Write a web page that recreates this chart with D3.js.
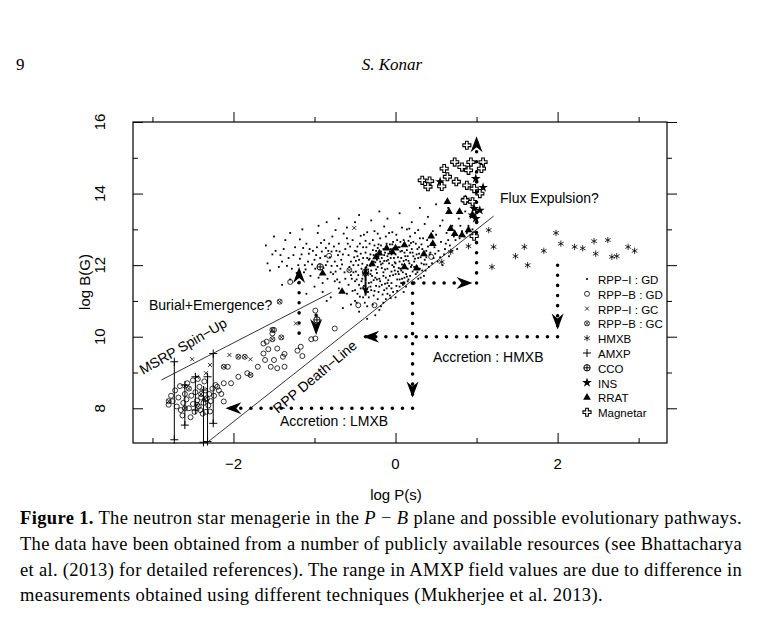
<!DOCTYPE html>
<html><head><meta charset="utf-8">
<script src="https://cdn.jsdelivr.net/npm/d3@7"></script>
<style>body{margin:0;background:#fff}svg{display:block}</style>
</head><body><svg id="c" width="775" height="627"></svg>
<script>
const xTicks=[-2,0,2], yTicks=[8,10,12,14,16];
const rppIGD=[[-0.55,12.1],[-0.52,11.8],[-0.5,12.4],[-0.48,11.6],[-0.46,12.0],[-0.44,12.6],[-0.42,11.9],[-0.4,12.2],[-0.38,11.7],[-0.36,12.5],[-0.35,12.0],[-0.33,11.5],[-0.31,12.3],[-0.3,11.85],[-0.28,12.7],[-0.27,12.1],[-0.25,11.65],[-0.24,12.4],[-0.22,11.95],[-0.21,12.25],[-0.19,11.55],[-0.18,12.55],[-0.16,12.05],[-0.15,11.8],[-0.13,12.35],[-0.12,12.8],[-0.1,11.9],[-0.09,12.15],[-0.07,11.7],[-0.06,12.45],[-0.04,12.0],[-0.03,12.65],[-0.01,11.85],[0.0,12.3],[0.02,11.6],[0.03,12.5],[0.05,12.1],[0.06,11.9],[0.08,12.4],[0.1,12.7],[0.11,12.0],[0.13,11.75],[0.15,12.25],[0.17,12.55],[0.19,11.95],[0.21,12.35],[0.23,12.1],[0.25,12.6],[0.28,12.2],[0.3,11.9],[0.33,12.45],[0.36,12.15],[0.39,12.7],[0.42,12.3],
[-0.58,11.45],[-0.53,12.7],[-0.47,12.25],[-0.43,11.35],[-0.39,12.85],[-0.34,11.25],[-0.29,12.0],[-0.26,12.95],[-0.2,11.4],[-0.17,12.2],[-0.14,11.3],[-0.11,12.6],[-0.08,12.9],[-0.05,11.5],[-0.02,12.2],[0.01,12.85],[0.04,11.75],[0.07,12.2],[0.09,11.45],[0.12,12.55],[0.14,13.0],[0.16,11.6],[0.18,12.8],[0.2,12.0],[0.22,11.5],[0.24,12.9],[0.27,11.8],[0.29,12.5],[0.32,12.05],[0.35,11.7],[0.38,12.4],[0.41,11.95],[0.44,12.6],[0.47,12.2],[0.5,12.85],[0.53,12.4],[0.56,12.65],[0.6,12.3],[0.63,12.9],[0.67,12.55],[0.7,13.1],[0.74,12.7],[0.78,13.3],[0.82,12.95],[0.86,13.5],[0.9,13.1],
[-0.65,12.3],[-0.68,11.9],[-0.7,12.6],[-0.72,11.6],[-0.75,12.1],[-0.78,12.8],[-0.8,11.8],[-0.83,12.4],[-0.86,12.0],[-0.88,12.7],[-0.9,11.5],[-0.93,12.2],[-0.96,12.9],[-0.99,11.9],[-1.02,12.4],[-1.05,11.7],[-1.08,12.1],[-1.1,12.6],[-1.13,11.8],[-1.16,12.3],[-1.2,12.0],[-1.24,12.5],[-1.28,11.9],[-1.32,12.2],[-1.36,12.7],[-1.4,12.1],[-1.44,11.95],[-1.48,12.4],[-1.52,12.3],[-1.58,12.05],[-1.6,12.55],[-1.5,12.8],[-1.3,12.9],[-1.15,13.0],[-0.95,13.1],[-0.85,13.2],[-0.7,13.3],[-0.6,13.05],[-0.5,13.2],[-0.45,13.4],[-0.3,13.25],[-0.2,13.5],[-0.1,13.3],[0.05,13.45],[0.2,13.2],[0.3,13.6],[0.4,13.35],[0.5,13.7],[0.55,13.1],[0.65,13.6],
[-0.6,11.2],[-0.55,10.9],[-0.5,11.0],[-0.45,10.7],[-0.4,11.1],[-0.35,10.85],[-0.3,11.3],[-0.25,10.6],[-0.22,11.05],[-0.15,10.95],[-0.1,11.2],[-0.05,11.35],[0.0,11.1],[0.05,11.4],[0.1,11.25],[-0.7,11.35],[-0.8,11.1],[-0.9,11.25],[-1.0,11.4],[-1.1,11.2],[-1.2,11.5],[-0.65,10.8],[-0.75,11.55],[-0.95,11.65],[-1.3,11.6],[-1.4,11.45],[-0.85,11.0],[-0.2,10.75],[0.15,11.55],[-0.35,10.5],
[-0.45,12.15],[-0.4,11.8],[-0.37,12.35],[-0.32,12.6],[-0.29,11.7],[-0.23,12.15],[-0.19,12.75],[-0.15,12.45],[-0.12,11.65],[-0.08,12.05],[-0.05,12.3],[-0.02,11.95],[0.02,12.45],[0.06,12.65],[0.09,11.8],[0.12,12.25],[0.15,11.9],[0.18,12.35],[0.22,12.65],[0.26,12.3],[0.31,11.65],[0.34,12.75],[0.37,11.85],[-0.57,11.95],[-0.62,12.45],[-0.67,12.15],[-0.73,12.4],[-0.77,11.75],[-0.82,12.6],[-0.87,12.25],[-0.92,11.75],[-0.97,12.5],[-1.0,12.15],[-1.06,12.45],[-1.12,12.0],[-0.6,12.75],[-0.5,11.3],[0.45,12.05],[0.48,12.5],[0.52,12.1],[0.58,12.0],[0.62,12.6],[0.66,12.25],[0.72,12.8],[0.76,12.45],[0.8,13.1],[0.85,12.8],[0.95,13.0],
[-0.54,11.62],[-0.51,12.22],[-0.49,11.82],[-0.47,12.52],[-0.44,11.12],[-0.41,12.04],[-0.39,11.42],[-0.37,12.68],[-0.34,11.88],[-0.32,12.18],[-0.3,11.52],[-0.28,12.42],[-0.26,11.28],[-0.25,12.08],[-0.23,11.78],[-0.21,12.58],[-0.2,11.62],[-0.18,12.02],[-0.16,11.18],[-0.14,12.28],[-0.13,11.48],[-0.11,12.12],[-0.09,11.58],[-0.07,12.38],[-0.06,11.08],[-0.04,12.58],[-0.03,11.72],[-0.01,12.08],[0.01,11.42],[0.03,12.22],[0.04,11.92],[0.06,12.38],[0.08,11.62],[0.1,12.12],[0.12,11.92],[0.14,12.42],[0.16,12.12],[0.19,12.62],[0.21,11.82],[0.24,12.18],[0.26,11.98],[0.29,12.32],[0.32,12.58],[0.35,12.02],[0.38,12.22],[0.4,12.52],[-0.53,11.28],[-0.48,10.95],[-0.42,11.55],[-0.38,10.95],[-0.33,11.1],[-0.28,10.9],[-0.24,11.42],[-0.18,10.85],[-0.12,11.05],[-0.08,11.42],[-0.03,11.25],[0.02,11.28],[0.07,11.5],[0.13,11.4],[-0.62,11.62],[-0.66,12.02],[-0.69,11.52],[-0.71,12.28],[-0.74,11.82],[-0.76,12.52],[-0.79,11.98],[-0.81,12.22],[-0.84,11.62],[-0.86,12.48],[-0.89,11.92],[-0.91,12.38],[-0.94,12.02],[-0.98,12.28],[-1.03,12.02],[-1.07,12.32],[-1.11,11.88],[-1.14,12.48],[-1.18,12.18],[-1.22,11.78],[-1.26,12.28],[-1.34,11.98],[-1.42,12.28],[-1.55,11.85],[-0.56,12.52],[-0.43,12.82],[-0.35,12.92],[-0.22,12.88],[-0.14,13.08],[-0.04,12.92],[0.08,13.05],[0.17,13.02],[0.28,12.98],[0.36,13.15],[0.46,12.95],[0.58,13.25],[0.68,13.0],[-0.64,12.88],[-0.74,12.98],[-0.92,12.62],[-1.18,12.72],[-1.38,12.45],[-0.27,11.15],[-0.15,11.7],[-0.1,11.5],[0.0,11.75],[0.05,11.6],[0.11,11.65],[0.18,11.7],[0.23,11.95],[0.28,11.62],[0.33,11.85],[0.38,12.02],[0.43,12.35],[0.49,12.32],[0.55,12.22],[0.61,12.45],[0.65,12.7],[0.7,12.4],[0.79,12.75],[0.88,12.9],
[-0.52,12.0],[-0.49,12.12],[-0.46,11.72],[-0.43,12.32],[-0.41,11.62],[-0.36,11.95],[-0.33,12.15],[-0.31,11.75],[-0.27,12.28],[-0.24,11.88],[-0.22,12.48],[-0.19,12.1],[-0.17,11.92],[-0.14,12.12],[-0.12,12.5],[-0.1,12.25],[-0.07,12.58],[-0.05,11.82],[-0.03,12.38],[0.0,12.05],[0.02,12.7],[0.05,12.5],[0.07,11.85],[0.09,12.55],[0.11,12.35],[0.14,11.68],[0.17,12.05],[0.2,12.45],[0.25,11.75],[0.27,12.45],[0.31,12.22],[-0.48,12.38],[-0.45,11.45],[-0.4,12.5],[-0.35,12.2],[-0.31,11.98],[-0.26,12.55],[-0.23,11.6],[-0.18,12.38],[-0.13,11.88],[-0.09,12.32],[-0.06,12.2],[-0.02,12.48],[0.03,11.82],[0.08,12.02],[0.13,12.15],[0.16,12.68],[0.22,12.25],[0.3,12.75],[-0.58,12.28],[-0.63,11.8],[-0.69,12.38],[-0.72,11.98],[-0.79,12.38],[-0.84,12.1],[-0.59,12.6],[-0.55,11.72],[-0.5,11.55],[-0.47,11.2],[-0.4,11.35],[-0.36,11.25],[-0.31,11.4],[-0.27,11.58],[-0.21,11.25],[-0.17,11.45],[-0.11,11.35],[-0.07,11.15]];
const rppBGD=[[-1.30,11.53],[-0.82,12.26],[-0.99,10.73],[-0.75,10.23],[-0.99,9.95],[-1.04,9.93],[-1.17,9.72],[-1.21,9.61],[-1.15,9.46],[-1.37,9.52],[-1.50,10.19],[-1.52,10.09],[-1.59,9.86],[-1.63,9.81],[-1.57,9.65],[-1.46,9.67],[-1.39,9.44],[-1.50,9.35],[-1.54,9.16],[-1.61,9.35],[-1.70,9.16],[-1.83,8.98],[-1.94,8.88],[-2.03,8.70],[-2.12,8.70],[-2.20,8.60],[-2.12,8.19],[-2.29,7.91],[-2.07,9.16],[0.44,12.23],[-0.46,10.88],[-0.26,10.88],[-1.63,9.53],[-1.37,9.16],[-1.46,9.12],
[-2.80,8.10],[-2.75,8.20],[-2.70,8.05],[-2.68,8.30],[-2.65,7.95],[-2.62,8.15],[-2.60,8.40],[-2.58,8.25],[-2.55,8.00],[-2.52,8.35],[-2.50,8.12],[-2.48,7.90],[-2.47,8.45],[-2.45,8.22],[-2.43,8.05],[-2.42,8.60],[-2.40,8.30],[-2.38,7.85],[-2.37,8.15],[-2.35,8.50],[-2.33,8.28],[-2.31,8.08],[-2.30,8.40],[-2.28,8.20],[-2.26,8.55],[-2.72,8.50],[-2.66,8.62],[-2.57,8.70],[-2.50,8.78],[-2.44,8.82],[-2.36,8.75],[-2.24,8.35],[-2.22,8.65],[-2.18,8.50],[-2.15,8.40],[-2.77,8.35],[-2.63,7.80],[-2.53,7.75],[-2.41,7.95],[-2.34,7.90]];
const rppIGC=[[-2.05,9.49],[-1.79,9.37],[-2.29,9.21],[-2.51,9.37],[-2.60,8.62],[-0.51,13.04],[-1.23,10.37],[-2.34,8.98],[-2.45,8.88]];
const rppBGC=[[-1.94,9.44],[-1.86,9.44],[-2.12,9.16],[-1.52,10.19],[-1.52,9.93],[-1.41,9.98],[-1.79,8.93],[-1.43,10.98],[-0.57,11.86],[-2.60,8.00],[-2.45,8.10],[-2.55,8.55],[-2.40,8.40],[-2.80,8.20],[-2.35,8.25]];
const hmxb=[[1.15,12.98],[1.21,12.51],[1.19,11.95],[1.48,12.25],[1.59,12.51],[1.63,12.0],[1.83,12.40],[1.98,12.90],[2.04,12.60],[2.21,12.51],[2.31,12.47],[2.45,12.67],[2.47,12.32],[2.62,12.70],[2.67,12.23],[2.73,12.25],[2.87,12.51],[2.95,12.40],[0.90,12.53],[0.68,12.37],[0.57,12.09]];
// AMXP: logP, B low, B high
const amxp=[[-2.73,7.12,9.30],[-2.60,7.53,8.65],[-2.37,7.05,8.51],[-2.32,7.07,8.88],[-2.25,7.58,9.53],[-2.47,7.95,8.88]];
const cco=[[-0.93,11.95],[-0.97,10.47],[-0.37,11.8]];
const ins=[[0.99,14.42],[1.08,14.17],[0.97,13.58],[1.04,13.53],[0.95,13.40],[0.99,13.30],[0.86,13.84],[0.55,14.33]];
const rrat=[[0.64,13.77],[0.66,13.49],[0.79,13.49],[0.95,13.40],[0.68,13.02],[0.73,12.88],[0.82,12.84],[0.90,12.98],[0.44,12.81],[0.46,12.60],[0.35,12.31],[0.26,11.91],[0.11,11.95],[0.11,12.56],[0.00,12.47],[-0.04,12.37],[-0.11,12.47],[-0.24,12.23],[-0.20,12.33],[-0.66,11.26],[-0.90,11.77],[-0.29,12.03]];
const magnetar=[[0.88,15.35],[0.73,14.88],[0.82,14.74],[0.93,14.88],[1.08,14.88],[0.90,14.65],[1.06,14.70],[0.60,14.70],[0.64,14.47],[0.75,14.33],[0.88,14.23],[0.97,14.14],[1.04,14.00],[0.33,14.37],[0.42,14.35],[0.40,14.19],[0.57,14.20],[0.86,13.81],[0.95,13.77],[0.97,12.81]];
const spinUp=[[-2.89,8.79],[-0.79,11.24]];
const deathLine=[[-2.31,7.07],[1.21,13.37]];
const arrows=[
 [[0.21,11.5],[0.21,8.3]], [[0.21,8.0],[-2.1,8.0]],
 [[2.0,12.0],[2.0,10.2]], [[2.0,10.0],[-0.4,10.0]],
 [[0.1,11.5],[0.95,11.5]], [[1.0,11.5],[1.0,15.6]],
 [[-1.19,10.1],[-1.19,11.95]], [[-0.98,10.6],[-0.98,10.05]]];
const smallArrows=[[[-0.37,11.55],[-0.37,11.15]],[[-0.37,11.55],[-0.37,11.95]]];
const legendLabels=["RPP−I : GD","RPP−B : GD","RPP−I : GC","RPP−B : GC","HMXB","AMXP","CCO","INS","RRAT","Magnetar"];

const svg=d3.select("#c");
const L=133,R=667,T=122,B=443;
const x=d3.scaleLinear().domain([-3.24,3.35]).range([L,R]);
const y=d3.scaleLinear().domain([7.03,16]).range([B,T]);
const g=svg.append("g");
const sans="Liberation Sans, Arial, sans-serif";

g.append("rect").attr("x",L).attr("y",T).attr("width",R-L).attr("height",B-T).attr("fill","none").attr("stroke","#000").attr("stroke-width",1.2);
const ax=(sel,axis)=>{sel.call(axis);sel.select(".domain").remove();sel.selectAll("line").attr("stroke","#000");sel.selectAll("text").remove();};
[[B,d3.axisBottom,-1],[T,d3.axisTop,1]].forEach(([p,f,s])=>{
 ax(g.append("g").attr("transform",`translate(0,${p})`),f(x).tickValues(xTicks).tickSize(s*10));
 ax(g.append("g").attr("transform",`translate(0,${p})`),f(x).tickValues([-3,-1,1,3]).tickSize(s*5));});
[[L,d3.axisLeft,-1],[R,d3.axisRight,1]].forEach(([p,f,s])=>{
 ax(g.append("g").attr("transform",`translate(${p},0)`),f(y).tickValues(yTicks).tickSize(s*10));
 ax(g.append("g").attr("transform",`translate(${p},0)`),f(y).tickValues([9,11,13,15]).tickSize(s*5));});
xTicks.forEach(v=>g.append("text").attr("x",x(v)).attr("y",469).attr("text-anchor","middle").attr("font-family",sans).attr("font-size",15).text(v<0?"−"+(-v):v));
yTicks.forEach(v=>g.append("text").attr("transform",`translate(105,${y(v)}) rotate(-90)`).attr("text-anchor","middle").attr("font-family",sans).attr("font-size",15).text(v));
g.append("text").attr("x",396).attr("y",500).attr("text-anchor","middle").attr("font-family",sans).attr("font-size",15).text("log P(s)");
g.append("text").attr("transform","translate(90,282) rotate(-90)").attr("text-anchor","middle").attr("font-family",sans).attr("font-size",15).text("log B(G)");

const draw={
 dot:(s,cx,cy)=>s.append("rect").attr("x",cx-0.9).attr("y",cy-0.9).attr("width",1.8).attr("height",1.8).attr("fill","#000"),
 circ:(s,cx,cy)=>s.append("circle").attr("cx",cx).attr("cy",cy).attr("r",2.5).attr("fill","none").attr("stroke","#000").attr("stroke-width",0.8),
 x:(s,cx,cy)=>s.append("path").attr("d",`M${cx-2},${cy-2}L${cx+2},${cy+2}M${cx-2},${cy+2}L${cx+2},${cy-2}`).attr("stroke","#000").attr("stroke-width",0.8),
 ox:(s,cx,cy)=>{draw.circ(s,cx,cy);s.append("path").attr("d",`M${cx-1.8},${cy-1.8}L${cx+1.8},${cy+1.8}M${cx-1.8},${cy+1.8}L${cx+1.8},${cy-1.8}`).attr("stroke","#000").attr("stroke-width",0.8);},
 ast:(s,cx,cy)=>s.append("path").attr("d",`M${cx},${cy-3.2}L${cx},${cy+3.2}M${cx-2.8},${cy-1.6}L${cx+2.8},${cy+1.6}M${cx-2.8},${cy+1.6}L${cx+2.8},${cy-1.6}`).attr("stroke","#000").attr("stroke-width",0.8),
 plus:(s,cx,cy)=>s.append("path").attr("d",`M${cx-4},${cy}L${cx+4},${cy}M${cx},${cy-4}L${cx},${cy+4}`).attr("stroke","#000").attr("stroke-width",1),
 op:(s,cx,cy)=>{s.append("circle").attr("cx",cx).attr("cy",cy).attr("r",3.2).attr("fill","#fff").attr("stroke","#000").attr("stroke-width",1);s.append("path").attr("d",`M${cx-3.2},${cy}L${cx+3.2},${cy}M${cx},${cy-3.2}L${cx},${cy+3.2}`).attr("stroke","#000").attr("stroke-width",1);},
 star:(s,cx,cy)=>s.append("path").attr("d",d3.symbol(d3.symbolStar,30)()).attr("transform",`translate(${cx},${cy})`).attr("fill","#000"),
 tri:(s,cx,cy)=>s.append("path").attr("d",d3.symbol(d3.symbolTriangle,26)()).attr("transform",`translate(${cx},${cy})`).attr("fill","#000"),
 mag:(s,cx,cy)=>s.append("path").attr("d",d3.symbol(d3.symbolCross,36)()).attr("transform",`translate(${cx},${cy})`).attr("fill","#fff").attr("stroke","#000").attr("stroke-width",1.1)
};
const pts=svg.append("g");
rppIGD.forEach(d=>draw.dot(pts,x(d[0]),y(d[1])));
rppBGD.forEach(d=>draw.circ(pts,x(d[0]),y(d[1])));
rppIGC.forEach(d=>draw.x(pts,x(d[0]),y(d[1])));
rppBGC.forEach(d=>draw.ox(pts,x(d[0]),y(d[1])));
hmxb.forEach(d=>draw.ast(pts,x(d[0]),y(d[1])));
amxp.forEach(d=>{pts.append("line").attr("x1",x(d[0])).attr("x2",x(d[0])).attr("y1",y(d[1])).attr("y2",y(d[2])).attr("stroke","#000");
 draw.plus(pts,x(d[0]),y(d[1]));draw.plus(pts,x(d[0]),y(d[2]));});
cco.forEach(d=>draw.op(pts,x(d[0]),y(d[1])));
rrat.forEach(d=>draw.tri(pts,x(d[0]),y(d[1])));
ins.forEach(d=>draw.star(pts,x(d[0]),y(d[1])));
magnetar.forEach(d=>draw.mag(pts,x(d[0]),y(d[1])));

const ln=d3.line().x(d=>x(d[0])).y(d=>y(d[1]));
[spinUp,deathLine].forEach(l=>svg.append("path").attr("d",ln(l)).attr("stroke","#000").attr("stroke-width",0.8).attr("fill","none"));

const head=(x1,y1,ang,sc)=>svg.append("path").attr("d","M0,0L-16,-6L-11,0L-16,6Z").attr("transform",`translate(${x1},${y1}) rotate(${ang}) scale(${sc})`).attr("fill","#000");
arrows.forEach(a=>{
 const [x0,y0]=[x(a[0][0]),y(a[0][1])],[x1,y1]=[x(a[1][0]),y(a[1][1])];
 const ang=Math.atan2(y1-y0,x1-x0)*180/Math.PI;
 svg.append("line").attr("x1",x0).attr("y1",y0).attr("x2",x1).attr("y2",y1).attr("stroke","#000").attr("stroke-width",3.5).attr("stroke-linecap","round").attr("stroke-dasharray","0.1,10");
 head(x1,y1,ang,1);
});
smallArrows.forEach(a=>{
 const [x0,y0]=[x(a[0][0]),y(a[0][1])],[x1,y1]=[x(a[1][0]),y(a[1][1])];
 svg.append("line").attr("x1",x0).attr("y1",y0).attr("x2",x1).attr("y2",y1).attr("stroke","#000").attr("stroke-width",2);
 head(x1,y1,Math.atan2(y1-y0,x1-x0)*180/Math.PI,0.6);
});

const ann=(t,xx,yy,rot)=>svg.append("text").attr("transform",`translate(${xx},${yy}) rotate(${rot||0})`).attr("font-family",sans).attr("font-size",14).text(t);
ann("Flux Expulsion?",500,203);
ann("Burial+Emergence?",149,310);
ann("Accretion : HMXB",433,362);
ann("Accretion : LMXB",280,426);
ann("MSRP Spin−Up",143,375,-30);
ann("RPP Death−Line",278,414,-40);

const legF=[draw.dot,draw.circ,draw.x,draw.ox,draw.ast,draw.plus,draw.op,draw.star,draw.tri,draw.mag];
legendLabels.forEach((t,i)=>{const yy=280+i*14.8;
 legF[i](svg,587,yy-1);
 svg.append("text").attr("x",598).attr("y",yy+4).attr("font-family",sans).attr("font-size",11.5).text(t);});

const serif="Liberation Serif, Times New Roman, serif";
svg.append("text").attr("x",16).attr("y",70).attr("font-family",serif).attr("font-size",17).text("9");
svg.append("text").attr("x",392).attr("y",70).attr("text-anchor","middle").attr("font-family",serif).attr("font-style","italic").attr("font-size",17).text("S. Konar");
const cap=[
 [["Figure 1.","bold"],[" The neutron star menagerie in the ",""],["P","italic"],[" − ",""],["B","italic"],[" plane and possible evolutionary pathways.",""]],
 [["The data have been obtained from a number of publicly available resources (see Bhattacharya",""]],
 [["et al. (2013) for detailed references). The range in AMXP field values are due to difference in",""]],
 [["measurements obtained using different techniques (Mukherjee et al. 2013).",""]]];
const widths=[722,722,722,583];
cap.forEach((line,i)=>{
 const t=svg.append("text").attr("x",20).attr("y",524+i*25.8).attr("font-family",serif).attr("font-size",18.5);
 line.forEach(([s,st])=>{const sp=t.append("tspan").text(s);if(st==="bold")sp.attr("font-weight","bold");if(st==="italic")sp.attr("font-style","italic");});
 const len=t.node().getComputedTextLength();const n=line.map(p=>p[0]).join("").length;
 t.attr("letter-spacing",(widths[i]-len)/n);
});
</script></body></html>
